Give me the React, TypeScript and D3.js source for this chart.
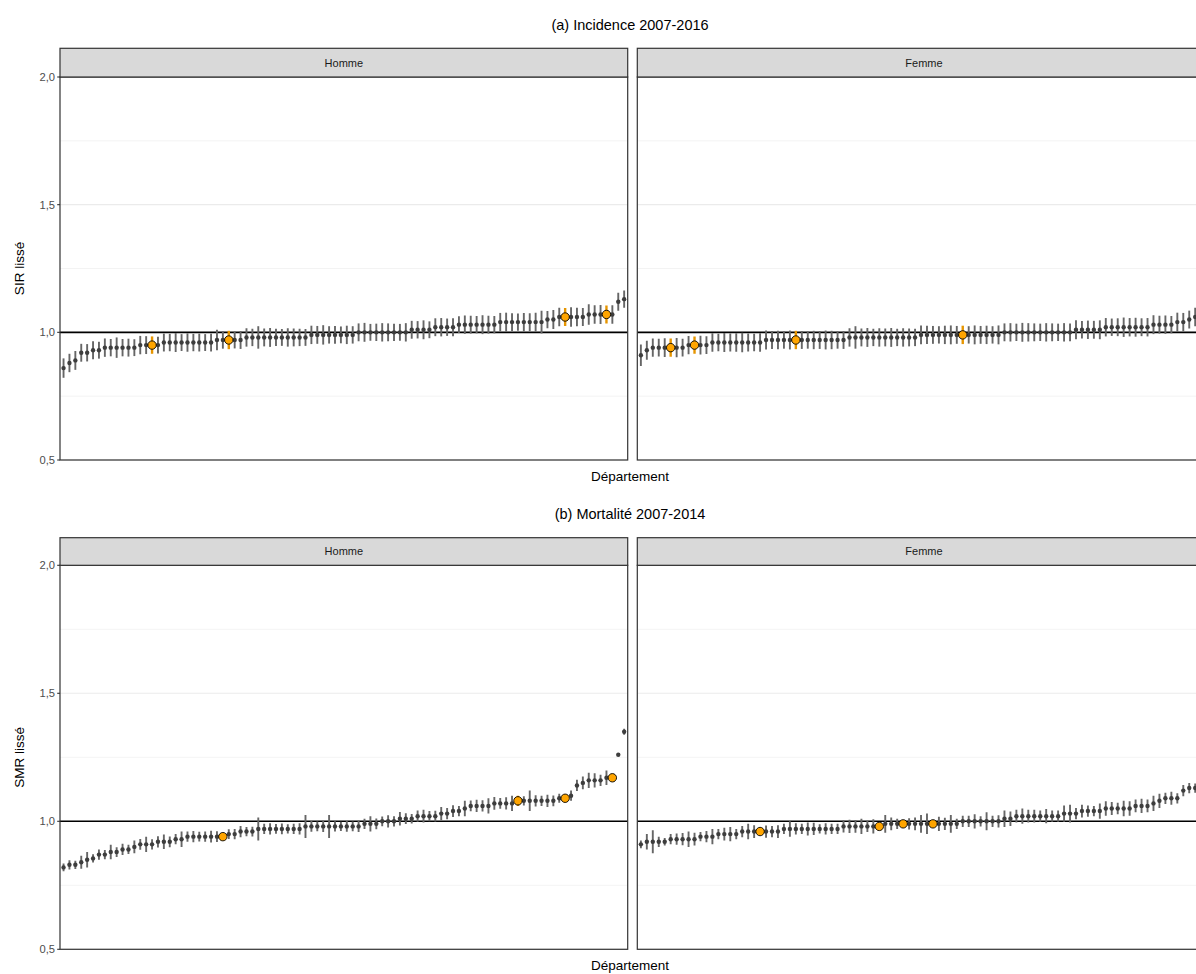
import React from 'react';
import * as d3 from 'd3';

// ---------- DATA (sorted smoothed ratios per département, half-width of interval) ----------
const topHommeVal = [
  0.86,0.88,0.89,0.92,0.92,0.93,0.93,0.94,0.94,0.94,
  0.94,0.94,0.94,0.95,0.95,0.95,0.95,0.96,0.96,0.96,
  0.96,0.96,0.96,0.96,0.96,0.96,0.97,0.97,0.97,0.97,
  0.97,0.98,0.98,0.98,0.98,0.98,0.98,0.98,0.98,0.98,
  0.98,0.98,0.99,0.99,0.99,0.99,0.99,0.99,0.99,0.99,
  1.00,1.00,1.00,1.00,1.00,1.00,1.00,1.00,1.00,1.01,
  1.01,1.01,1.01,1.02,1.02,1.02,1.02,1.03,1.03,1.03,
  1.03,1.03,1.03,1.03,1.04,1.04,1.04,1.04,1.04,1.04,
  1.04,1.04,1.05,1.05,1.06,1.06,1.06,1.06,1.06,1.07,
  1.07,1.07,1.07,1.07,1.12,1.13,
];
const topHommeErr = [
  .038,.036,.037,.035,.034,.035,.033,.036,.034,.040,
  .034,.035,.033,.036,.035,.034,.033,.035,.034,.037,
  .033,.036,.034,.035,.033,.035,.040,.034,.036,.033,
  .035,.036,.034,.044,.035,.037,.034,.033,.036,.035,
  .034,.033,.036,.035,.038,.034,.035,.033,.036,.034,
  .035,.037,.033,.034,.036,.035,.034,.033,.036,.035,
  .034,.037,.033,.035,.036,.034,.035,.033,.036,.035,
  .034,.037,.035,.034,.036,.037,.035,.034,.036,.035,
  .037,.045,.034,.037,.036,.035,.038,.036,.035,.040,
  .036,.037,.035,.036,.035,.034,
];
const topHommeHighlight = [15, 28, 85, 92];

const topFemmeVal = [
  0.91,0.93,0.94,0.94,0.94,0.94,0.94,0.94,0.95,0.95,
  0.95,0.95,0.96,0.96,0.96,0.96,0.96,0.96,0.96,0.96,
  0.96,0.97,0.97,0.97,0.97,0.97,0.97,0.97,0.97,0.97,
  0.97,0.97,0.97,0.97,0.97,0.98,0.98,0.98,0.98,0.98,
  0.98,0.98,0.98,0.98,0.98,0.98,0.98,0.99,0.99,0.99,
  0.99,0.99,0.99,0.99,0.99,0.99,0.99,0.99,0.99,0.99,
  0.99,1.00,1.00,1.00,1.00,1.00,1.00,1.00,1.00,1.00,
  1.00,1.00,1.00,1.01,1.01,1.01,1.01,1.01,1.02,1.02,
  1.02,1.02,1.02,1.02,1.02,1.02,1.03,1.03,1.03,1.03,
  1.04,1.04,1.05,1.06,1.06,1.08,
];
const topFemmeErr = [
  .042,.037,.036,.035,.037,.036,.038,.035,.036,.034,
  .037,.035,.036,.034,.037,.035,.036,.038,.035,.034,
  .036,.037,.035,.036,.034,.037,.036,.035,.034,.036,
  .035,.037,.036,.034,.035,.036,.044,.035,.037,.034,
  .036,.035,.037,.034,.036,.035,.034,.037,.036,.035,
  .034,.036,.037,.035,.036,.034,.037,.035,.036,.034,
  .037,.035,.036,.034,.037,.036,.035,.034,.036,.035,
  .034,.036,.035,.037,.034,.036,.035,.037,.036,.034,
  .035,.038,.036,.037,.035,.036,.037,.035,.036,.034,
  .037,.036,.035,.036,.035,.036,
];
const topFemmeHighlight = [5, 9, 26, 54];

const botHommeVal = [
  0.82,0.83,0.83,0.84,0.85,0.855,0.87,0.87,0.88,0.88,
  0.89,0.89,0.90,0.91,0.91,0.91,0.92,0.92,0.92,0.93,
  0.93,0.94,0.94,0.94,0.94,0.94,0.94,0.94,0.95,0.95,
  0.96,0.96,0.96,0.97,0.97,0.97,0.97,0.97,0.97,0.97,
  0.97,0.98,0.98,0.98,0.98,0.98,0.98,0.98,0.98,0.98,
  0.98,0.99,0.99,0.99,1.00,1.00,1.00,1.01,1.01,1.01,
  1.02,1.02,1.02,1.02,1.03,1.03,1.04,1.04,1.05,1.06,
  1.06,1.06,1.06,1.07,1.07,1.07,1.07,1.08,1.08,1.08,
  1.08,1.08,1.08,1.08,1.09,1.09,1.10,1.14,1.15,1.16,
  1.16,1.16,1.17,1.17,1.26,1.35,
];
const botHommeErr = [
  .015,.018,.016,.025,.030,.016,.020,.018,.028,.019,
  .022,.018,.025,.021,.030,.020,.022,.028,.021,.020,
  .030,.020,.022,.019,.020,.023,.021,.010,.019,.020,
  .022,.018,.019,.045,.020,.022,.019,.021,.018,.020,
  .022,.045,.021,.019,.022,.045,.020,.018,.021,.019,
  .022,.020,.030,.021,.019,.024,.020,.026,.021,.019,
  .022,.025,.020,.021,.026,.022,.023,.020,.030,.021,
  .024,.022,.030,.025,.021,.024,.030,.020,.018,.040,
  .022,.020,.024,.021,.018,.010,.020,.022,.025,.030,
  .028,.022,.028,.010,.004,.012,
];
const botHommeHighlight = [27, 77, 85, 93];

const botFemmeVal = [
  0.91,0.92,0.92,0.92,0.92,0.93,0.93,0.93,0.93,0.93,
  0.94,0.94,0.94,0.95,0.95,0.95,0.95,0.96,0.96,0.96,
  0.96,0.96,0.96,0.96,0.97,0.97,0.97,0.97,0.97,0.97,
  0.97,0.97,0.97,0.97,0.98,0.98,0.98,0.98,0.98,0.98,
  0.98,0.99,0.99,0.99,0.99,0.99,0.99,0.99,0.99,0.99,
  0.99,0.99,0.99,0.99,1.00,1.00,1.00,1.00,1.00,1.00,
  1.00,1.01,1.01,1.02,1.02,1.02,1.02,1.02,1.02,1.02,
  1.02,1.03,1.03,1.03,1.04,1.04,1.04,1.04,1.05,1.05,
  1.05,1.05,1.05,1.06,1.06,1.06,1.07,1.08,1.09,1.09,
  1.09,1.12,1.13,1.13,1.14,1.15,
];
const botFemmeErr = [
  .015,.030,.045,.020,.015,.020,.022,.024,.030,.025,
  .018,.022,.030,.020,.025,.028,.020,.022,.030,.025,
  .012,.024,.022,.025,.020,.030,.022,.020,.025,.024,
  .018,.022,.020,.020,.024,.026,.025,.030,.022,.028,
  .012,.035,.025,.020,.015,.022,.025,.035,.040,.012,
  .028,.024,.035,.020,.022,.022,.028,.020,.035,.022,
  .024,.032,.028,.025,.030,.025,.025,.022,.028,.022,
  .022,.032,.035,.022,.025,.022,.020,.030,.028,.025,
  .022,.030,.028,.025,.028,.025,.030,.028,.022,.025,
  .020,.022,.020,.018,.020,.020,
];
const botFemmeHighlight = [20, 40, 44, 49];

const departements = topHommeVal.map((_, i) => `D${i + 1}`);
const sexes = ['Homme', 'Femme'];
const yTicks = [0.5, 1.0, 1.5, 2.0];
const yMinor = [0.75, 1.25, 1.75];
const rowTitles = ['(a) Incidence 2007-2016', '(b) Mortalité 2007-2014'];
const rowYLabels = ['SIR lissé', 'SMR lissé'];
const xLabel = 'Département';

// ---------- LAYOUT ----------
const W = 1196;
const H = 974;
const FONT = 'Liberation Sans, Arial, Helvetica, sans-serif';
const panelX = [60, 637.3];
const panelWs = [567.7, 573.4];
const rows = [
  { top: 77, bottom: 460, stripTop: 48.3, titleY: 30, xlabY: 481 },
  { top: 565.3, bottom: 949.3, stripTop: 537.7, titleY: 519, xlabY: 970 },
];

const facets = [
  [
    { val: topHommeVal, err: topHommeErr, hl: topHommeHighlight },
    { val: topFemmeVal, err: topFemmeErr, hl: topFemmeHighlight },
  ],
  [
    { val: botHommeVal, err: botHommeErr, hl: botHommeHighlight },
    { val: botFemmeVal, err: botFemmeErr, hl: botFemmeHighlight },
  ],
];

const fmt = (v: number) => d3.format('.1f')(v).replace('.', ',');

function Facet({ r, c }: { r: number; c: number }) {
  const row = rows[r];
  const x0 = panelX[c];
  const panelW = panelWs[c];
  const x = d3.scalePoint<string>().domain(departements).range([x0, x0 + panelW]).padding(0.6);
  const y = d3.scaleLinear().domain([0.5, 2.0]).range([row.bottom, row.top]);
  const d = facets[r][c];
  const clipId = `clip-${r}-${c}`;
  const hlSet = new Set(d.hl);
  return (
    <g>
      <defs>
        <clipPath id={clipId}>
          <rect x={x0} y={row.top} width={panelW} height={row.bottom - row.top} />
        </clipPath>
      </defs>
      <rect x={x0} y={row.top} width={panelW} height={row.bottom - row.top} fill="#fff" />
      {yMinor.map((t) => (
        <line key={'m' + t} x1={x0} x2={x0 + panelW} y1={y(t)} y2={y(t)} stroke="#EBEBEB" strokeWidth={0.6} />
      ))}
      {yTicks.map((t) => (
        <line key={'M' + t} x1={x0} x2={x0 + panelW} y1={y(t)} y2={y(t)} stroke="#EBEBEB" strokeWidth={1.1} />
      ))}
      <g clipPath={`url(#${clipId})`}>
        <line x1={x0} x2={x0 + panelW} y1={y(1)} y2={y(1)} stroke="#000" strokeWidth={1.6} />
        {d.val.map((v, i) =>
          hlSet.has(i) ? null : (
            <line key={'e' + i} x1={x(departements[i])} x2={x(departements[i])}
              y1={y(v - d.err[i])} y2={y(v + d.err[i])} stroke="#666" strokeWidth={1.9} />
          )
        )}
        {d.val.map((v, i) =>
          hlSet.has(i) ? null : (
            <circle key={'p' + i} cx={x(departements[i])} cy={y(v)} r={2.2} fill="#3d3d3d" />
          )
        )}
        {d.hl.map((i) => (
          <line key={'he' + i} x1={x(departements[i])} x2={x(departements[i])}
            y1={y(d.val[i] - d.err[i])} y2={y(d.val[i] + d.err[i])} stroke="#E69500" strokeWidth={2.4} />
        ))}
        {d.hl.map((i) => (
          <circle key={'hp' + i} cx={x(departements[i])} cy={y(d.val[i])} r={4.2}
            fill="#FFA500" stroke="#000" strokeWidth={0.9} />
        ))}
      </g>
      <rect x={x0} y={row.top} width={panelW} height={row.bottom - row.top} fill="none" stroke="#333" strokeWidth={1.2} />
      <rect x={x0} y={row.stripTop} width={panelW} height={row.top - row.stripTop} fill="#D9D9D9" stroke="#333" strokeWidth={1.2} />
      <text x={x0 + panelW / 2} y={(row.stripTop + row.top) / 2} dy="0.35em" textAnchor="middle"
        fontSize={11} fill="#1A1A1A" fontFamily={FONT}>{sexes[c]}</text>
      {c === 0 &&
        yTicks.map((t) => (
          <g key={'t' + t}>
            <line x1={x0 - 2.8} x2={x0} y1={y(t)} y2={y(t)} stroke="#333" strokeWidth={1.1} />
            <text x={x0 - 5} y={y(t)} dy="0.35em" textAnchor="end" fontSize={11.2} fill="#4D4D4D" fontFamily={FONT}>
              {fmt(t)}
            </text>
          </g>
        ))}
    </g>
  );
}

export default function App() {
  return (
    <svg width={W} height={H} style={{ position: 'absolute', left: 0, top: 0, background: '#fff' }}
      xmlns="http://www.w3.org/2000/svg">
      <rect width={W} height={H} fill="#fff" />
      {rows.map((row, r) => (
        <g key={r}>
          <text x={630} y={row.titleY} textAnchor="middle" fontSize={14.5} fill="#000" fontFamily={FONT}>
            {rowTitles[r]}
          </text>
          <text transform={`translate(19,${(row.top + row.bottom) / 2}) rotate(-90)`} textAnchor="middle"
            dy="0.35em" fontSize={13.5} fill="#000" fontFamily={FONT}>{rowYLabels[r]}</text>
          <text x={630} y={row.xlabY} textAnchor="middle" fontSize={13.5} fill="#000" fontFamily={FONT}>
            {xLabel}
          </text>
          <Facet r={r} c={0} />
          <Facet r={r} c={1} />
        </g>
      ))}
    </svg>
  );
}
